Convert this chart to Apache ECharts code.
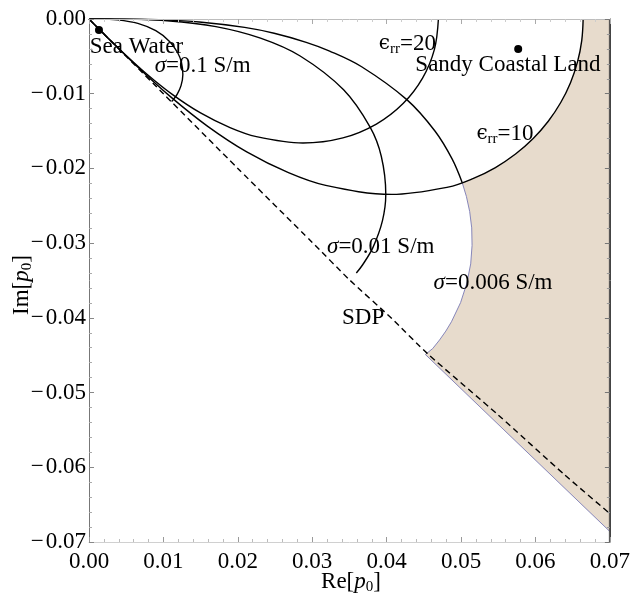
<!DOCTYPE html>
<html>
<head>
<meta charset="utf-8">
<script src="https://cdn.jsdelivr.net/npm/echarts@6/dist/echarts.min.js"></script>
<style>
html,body{margin:0;padding:0;background:#fff;}
#chart{width:633px;height:598px;}
</style>
</head>
<body>
<div id="chart"></div>
<script>
// ---- data (x = Re[p0], y = Im[p0]) ----
var xTicks = [0.00, 0.01, 0.02, 0.03, 0.04, 0.05, 0.06, 0.07];
var yTicks = [0.00, -0.01, -0.02, -0.03, -0.04, -0.05, -0.06, -0.07];

var eps20 = [[0.046957,0],[0.046421,-0.004061],[0.044827,-0.007904],[0.042210,-0.011310],[0.038621,-0.014057],[0.034120,-0.015910],[0.028755,-0.016602],[0.022496,-0.015752],[0.018952,-0.014543],[0.014989,-0.012578],[0.011282,-0.010159],[0.007792,-0.007394],[0.004425,-0.004348],[0.001388,-0.001385],[0,0]];
var eps10 = [[0.066408,0],[0.066219,-0.002891],[0.06565,-0.005744],[0.064708,-0.008519],[0.063397,-0.011179],[0.061722,-0.013683],[0.059694,-0.015995],[0.057322,-0.018074],[0.054618,-0.019879],[0.051592,-0.021370],[0.048254,-0.022501],[0.040666,-0.023479],[0.031813,-0.022276],[0.026804,-0.020567],[0.021199,-0.017788],[0.015955,-0.014366],[0.011020,-0.010457],[0.006257,-0.006149],[0.001963,-0.001959],[0,0]];
var sig01 = [[0.011098,-0.011037],[0.011361,-0.010749],[0.011859,-0.010052],[0.012367,-0.008914],[0.012614,-0.007421],[0.012424,-0.005819],[0.011952,-0.004587],[0.010820,-0.002997],[0.008974,-0.001566],[0.006562,-0.000586],[0.003830,-0.000115],[0.001485,0],[0,0]];
var sig001 = [[0.035926,-0.033993],[0.036755,-0.032926],[0.038150,-0.030597],[0.039440,-0.026978],[0.039885,-0.023472],[0.039287,-0.018401],[0.037796,-0.014505],[0.034216,-0.009476],[0.028378,-0.004953],[0.023049,-0.002561],[0.017055,-0.001019],[0.010494,-0.000236],[0.004696,-0.00002],[0,0]];
var sig0006 = [[0.050160,-0.021910],[0.048795,-0.018725],[0.046490,-0.014990],[0.042710,-0.010790],[0.036640,-0.006390],[0.032342,-0.004290],[0.029190,-0.003120],[0.024879,-0.001908],[0.020910,-0.001125],[0.014830,-0.000400],[0.009390,-0.000100],[0.004700,0],[0,0]];
var sdp = [[0,0],[0.010,-0.010],[0.020,-0.0200],[0.030,-0.0299],[0.035,-0.0349],[0.0407,-0.0401],[0.0455,-0.0448],[0.0550,-0.0530],[0.0639,-0.0610],[0.0700,-0.0662]];
// edge of the shaded region: sigma = 0.006 S/m branch (low eps) then eps = 10 branch up to the top
var shadeEdge = [[0.0452,-0.0449],[0.04619,-0.04411],[0.04711,-0.04296],[0.047958,-0.041767],[0.04871,-0.04052],[0.04994,-0.037954],[0.05078,-0.03536],[0.051295,-0.032778],[0.05148,-0.03030],[0.051432,-0.027957],[0.051159,-0.025768],[0.05072,-0.023758],[0.05016,-0.02191],[0.051592,-0.021370],[0.054618,-0.019879],[0.057322,-0.018074],[0.059694,-0.015995],[0.061722,-0.013683],[0.063397,-0.011179],[0.064708,-0.008519],[0.06565,-0.005744],[0.066219,-0.002891],[0.066408,0]];
var shadeRest = [[0.07,0],[0.07,-0.0686]];
var dots = [[0.00134,-0.00147],[0.05768,-0.00402]];
var labelTexts = ['Sea Water','{i|σ}=0.1 S/m','{e|ϵ}{s|rr}=20','Sandy Coastal Land','{e|ϵ}{s|rr}=10','{i|σ}=0.01 S/m','{i|σ}=0.006 S/m','SDP'];
var labelPos = [[0.0001,-0.00375],[0.00883,-0.00629],[0.03895,-0.00335],[0.04386,-0.00616],[0.05206,-0.01539],[0.03199,-0.03047],[0.04631,-0.03527],[0.0340,-0.04002]];

var FONT = 'Liberation Serif, DejaVu Serif, serif';
var FS = 23;
var chart = echarts.init(document.getElementById('chart'), null, {renderer:'canvas'});

function fmtY(v){ var a = Math.abs(v); return a < 1e-9 ? '0.00' : '\u2212\u200A' + a.toFixed(2); }
function fmtX(v){ return Math.abs(v).toFixed(2); }

function lineSeries(name, data, extra){
  var s = {name:name, type:'line', data:data, showSymbol:false, smooth:0.35, z:5,
    lineStyle:{color:'#000', width:1.4}, silent:true, animation:false};
  if (extra) for (var k in extra) s[k]=extra[k];
  return s;
}

var rich = {
  i:{fontFamily:FONT, fontSize:FS, fontStyle:'italic', color:'#000'},
  e:{fontFamily:'DejaVu Serif, serif', fontSize:FS-3, color:'#000'},
  s:{fontFamily:FONT, fontSize:15, color:'#000', padding:[10,0,0,0]}
};
var titleRich = {
  n:{fontFamily:FONT, fontSize:FS, fill:'#000'},
  i:{fontFamily:FONT, fontSize:FS, fontStyle:'italic', fill:'#000'},
  s:{fontFamily:FONT, fontSize:15, fill:'#000', padding:[10,0,0,0]}
};

var option = {
  animation:false,
  backgroundColor:'#fff',
  grid:{left:89, right:21, top:19, bottom:56, containLabel:false},
  xAxis:[{
    type:'value', min:xTicks[0], max:xTicks[xTicks.length-1], interval:0.01, position:'bottom', z:10,
    axisLine:{show:true, onZero:false, lineStyle:{color:'#d0d0d0', width:1}},
    axisTick:{show:true, inside:true, length:5, lineStyle:{color:'#999'}},
    minorTick:{show:true, splitNumber:5, length:3, lineStyle:{color:'#bbb'}},
    splitLine:{show:false},
    axisLabel:{formatter:fmtX, fontFamily:FONT, fontSize:FS, color:'#000', margin:8}
  },{
    type:'value', min:xTicks[0], max:xTicks[xTicks.length-1], interval:0.01, position:'top', z:10,
    axisLine:{show:true, onZero:false, lineStyle:{color:'#bdbdbd', width:1}},
    axisTick:{show:true, inside:true, length:5, lineStyle:{color:'#aaa'}},
    minorTick:{show:true, splitNumber:5, length:3, lineStyle:{color:'#ccc'}},
    splitLine:{show:false}, axisLabel:{show:false}
  }],
  yAxis:[{
    type:'value', min:yTicks[yTicks.length-1], max:yTicks[0], interval:0.01, position:'left', z:10,
    axisLine:{show:true, onZero:false, lineStyle:{color:'#777', width:1}},
    axisTick:{show:true, inside:true, length:5, lineStyle:{color:'#888'}},
    minorTick:{show:true, splitNumber:5, length:3, lineStyle:{color:'#aaa'}},
    splitLine:{show:false},
    axisLabel:{formatter:fmtY, fontFamily:FONT, fontSize:FS, color:'#000', margin:3}
  },{
    type:'value', min:yTicks[yTicks.length-1], max:yTicks[0], interval:0.01, position:'right', z:10,
    axisLine:{show:true, onZero:false, lineStyle:{color:'#444', width:1}},
    axisTick:{show:true, inside:true, length:5, lineStyle:{color:'#777'}},
    minorTick:{show:true, splitNumber:5, length:3, lineStyle:{color:'#999'}},
    splitLine:{show:false}, axisLabel:{show:false}
  }],
  series:[
    {
      type:'custom', z:1, silent:true, animation:false,
      data:[[0]],
      renderItem:function(params, api){
        var edge = shadeEdge.map(function(p){ return api.coord(p); });
        var rest = shadeRest.map(function(p){ return api.coord(p); });
        var poly = edge.concat(rest);
        var blue = [rest[rest.length-1]].concat(edge.slice(0, 13));
        var rTop = api.coord([xTicks[xTicks.length-1], yTicks[0]]);
        var rBot = api.coord([xTicks[xTicks.length-1], yTicks[yTicks.length-1]]);
        return {type:'group', children:[
          {type:'polygon', shape:{points:poly}, style:{fill:'#e7dbcc', stroke:null}},
          {type:'polyline', shape:{points:blue, smooth:0}, style:{fill:null, stroke:'#7a7ab4', lineWidth:0.9}},
          {type:'line', shape:{x1:rTop[0]-0.5, y1:rTop[1], x2:rBot[0]-0.5, y2:rBot[1]}, style:{stroke:'#444', lineWidth:1}}
        ]};
      }
    },
    lineSeries('eps20', eps20),
    lineSeries('eps10', eps10),
    lineSeries('sig01', sig01),
    lineSeries('sig001', sig001),
    lineSeries('sig0006', sig0006),
    lineSeries('sdp', sdp, {smooth:0.2, lineStyle:{color:'#000', width:1.4, type:[6,4]}}),
    {
      type:'scatter', data:dots, symbol:'circle', symbolSize:8, z:8,
      itemStyle:{color:'#000', opacity:1}, silent:true, animation:false
    },
    {
      type:'scatter', z:9, silent:true, animation:false, symbolSize:0,
      itemStyle:{opacity:1},
      data:labelPos.map(function(p,i){ return {value:p, name:labelTexts[i]}; }),
      label:{show:true, position:'inside', align:'left', verticalAlign:'middle', opacity:1,
        formatter:function(p){ return p.name; },
        fontFamily:FONT, fontSize:FS, color:'#000', rich:rich}
    }
  ],
  graphic:[
    {type:'text', x:22, y:285, rotation:Math.PI/2, style:{
      text:'{n|Im[}{i|p}{s|0}{n|]}', align:'center', verticalAlign:'middle', rich:titleRich
    }},
    {type:'text', x:351, y:582, style:{
      text:'{n|Re[}{i|p}{s|0}{n|]}', align:'center', verticalAlign:'middle', rich:titleRich
    }}
  ]
};
chart.setOption(option);
</script>
</body>
</html>
